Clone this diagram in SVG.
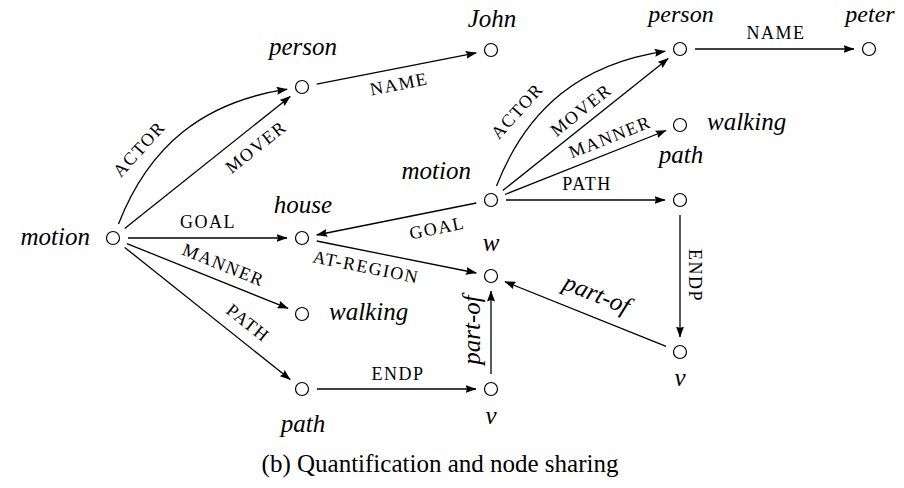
<svg xmlns="http://www.w3.org/2000/svg" width="904" height="488" viewBox="0 0 904 488">
<style>
.n{fill:#fff;stroke:#000;stroke-width:1.2}
.l{font-family:"Liberation Serif","Times New Roman",serif;font-style:italic;font-size:25px;fill:#000}
.t{font-size:24px}
.e{font-family:"Liberation Serif","Times New Roman",serif;font-size:18px;letter-spacing:1.5px;fill:#000;text-anchor:middle}
.c{fill:none;stroke:#000;stroke-width:1.3;marker-end:url(#ah)}
.cap{font-family:"Liberation Serif","Times New Roman",serif;font-size:25px;fill:#000;text-anchor:middle}
</style>
<defs>
<marker id="ah" viewBox="0 0 11 8" refX="10.5" refY="4" markerWidth="11" markerHeight="8" markerUnits="userSpaceOnUse" orient="auto">
<path d="M0,0 L11,4 L0,8 L1.5,4 z" fill="#000"/>
</marker>
</defs>
<rect width="904" height="488" fill="#fff"/>
<g id="connectors">
<path class="c" d="M118.5,224 C149.3,145.3 203.6,101.8 287.2,89.2"/>
<path class="c" d="M124.7,228.6 L290.3,96.4"/>
<path class="c" d="M128,238 L287,238"/>
<path class="c" d="M126.9,243.6 L288.1,308.4"/>
<path class="c" d="M124.7,247.4 L290.3,379.6"/>
<path class="c" d="M316.7,84.1 L476.3,52.9"/>
<path class="c" d="M316.7,241 L476.3,273"/>
<path class="c" d="M317,389 L476,389"/>
<path class="c" d="M491,374 L491,291"/>
<path class="c" d="M476.3,203 L316.7,235"/>
<path class="c" d="M496.5,186 C527.3,107.3 581.6,63.8 665.2,51.2"/>
<path class="c" d="M502.7,190.6 L668.3,58.4"/>
<path class="c" d="M504.9,194.5 L666.1,130.5"/>
<path class="c" d="M506,200 L665,200"/>
<path class="c" d="M695,49 L854,49"/>
<path class="c" d="M680,215 L680,337"/>
<path class="c" d="M666.1,346.4 L504.9,281.6"/>
</g>
<g id="edge-labels">
<text class="e" transform="translate(399,84) rotate(-11.1)" y="6">NAME</text>
<text class="e" transform="translate(139,149) rotate(-48)" y="6">ACTOR</text>
<text class="e" transform="translate(256,147) rotate(-38.6)" y="6">MOVER</text>
<text class="e" x="208" y="228">GOAL</text>
<text class="e" transform="translate(223.5,265) rotate(21.9)" y="6">MANNER</text>
<text class="e" transform="translate(248,323) rotate(38.6)" y="6">PATH</text>
<text class="e" transform="translate(366,267) rotate(11.4)" y="6">AT-REGION</text>
<text class="e" transform="translate(437,228) rotate(-11.4)" y="6">GOAL</text>
<text class="e" x="398" y="380">ENDP</text>
<text class="e" transform="translate(517,111) rotate(-48)" y="6">ACTOR</text>
<text class="e" transform="translate(581,110) rotate(-38.6)" y="6">MOVER</text>
<text class="e" transform="translate(610,137) rotate(-21.6)" y="6">MANNER</text>
<text class="e" x="587" y="190">PATH</text>
<text class="e" x="776" y="39">NAME</text>
<text class="e" transform="translate(695,275.5) rotate(90)" y="6">ENDP</text>
<text class="l" text-anchor="middle" transform="translate(473.5,330) rotate(-90)" y="6">part-of</text>
<text class="l" text-anchor="middle" transform="translate(596,296) rotate(21.9)" y="6">part-of</text>
</g>
<g id="node-motion1"><circle class="n" cx="113" cy="238" r="6.5"/><text class="l" x="90" y="245" text-anchor="end">motion</text></g>
<g id="node-person1"><circle class="n" cx="302" cy="87" r="6.5"/><text class="l" x="303" y="55" text-anchor="middle">person</text></g>
<g id="node-john"><circle class="n" cx="491" cy="50" r="6.5"/><text class="l" x="492" y="27" text-anchor="middle">John</text></g>
<g id="node-house"><circle class="n" cx="302" cy="238" r="6.5"/><text class="l" x="303" y="213" text-anchor="middle">house</text></g>
<g id="node-walking1"><circle class="n" cx="302" cy="314" r="6.5"/><text class="l" x="329" y="320">walking</text></g>
<g id="node-path1"><circle class="n" cx="302" cy="389" r="6.5"/><text class="l" x="303" y="432" text-anchor="middle">path</text></g>
<g id="node-v1"><circle class="n" cx="491" cy="389" r="6.5"/><text class="l" x="491" y="424" text-anchor="middle">v</text></g>
<g id="node-w"><circle class="n" cx="491" cy="276" r="6.5"/><text class="l" x="491" y="251" text-anchor="middle">w</text></g>
<g id="node-motion2"><circle class="n" cx="491" cy="200" r="6.5"/><text class="l" x="471" y="179" text-anchor="end">motion</text></g>
<g id="node-person2"><circle class="n" cx="680" cy="49" r="6.5"/><text class="l t" x="681" y="22" text-anchor="middle">person</text></g>
<g id="node-peter"><circle class="n" cx="869" cy="49" r="6.5"/><text class="l t" x="870" y="22" text-anchor="middle">peter</text></g>
<g id="node-walking2"><circle class="n" cx="680" cy="125" r="6.5"/><text class="l" x="707" y="130">walking</text></g>
<g id="node-path2"><circle class="n" cx="680" cy="200" r="6.5"/><text class="l" x="681" y="163" text-anchor="middle">path</text></g>
<g id="node-v2"><circle class="n" cx="680" cy="352" r="6.5"/><text class="l" x="680" y="386" text-anchor="middle">v</text></g>
<text class="cap" x="440" y="472">(b) Quantification and node sharing</text>
</svg>
